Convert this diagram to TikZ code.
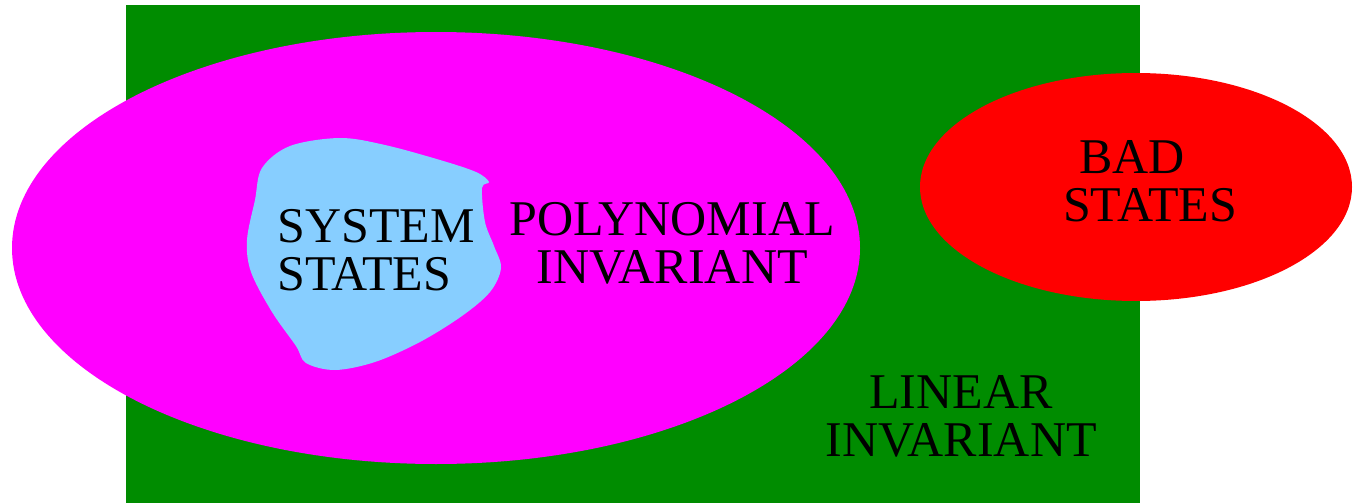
\documentclass[tikz,border=0pt]{standalone}
\usepackage{fontspec}
\setmainfont{Liberation Serif}
\definecolor{lingreen}{RGB}{0,140,0}
\definecolor{polymag}{RGB}{255,0,255}
\definecolor{badred}{RGB}{255,0,0}
\definecolor{sysblue}{RGB}{135,206,255}
\begin{document}
\begin{tikzpicture}[x=1pt,y=-1pt,
  lbl/.style={font=\fontsize{50}{48}\selectfont, align=center, inner sep=0pt, text=black}]
\useasboundingbox (0,0) rectangle (1353,503);
\fill[lingreen] (126,5.5) rectangle (1139.5,503);
\fill[polymag] (436,248) ellipse [x radius=424, y radius=216];
\fill[badred] (1136,187) ellipse [x radius=216, y radius=114];
\fill[sysblue] plot[smooth cycle, tension=0.55] coordinates {
 (340,138) (385,145) (440,160) (476,172) (489,182) (482,188)
 (485,222) (494,246) (501,268) (490,292) (462,316) (420,342) (375,362) (335,370)
 (306,363) (296,346) (272,312) (251,272) (247,240) (255,200) (262,168) (290,146)};
\node[lbl, align=left] (sys) at (376,250) {SYSTEM\\STATES};
\node[lbl] (poly) at (672,243) {POLYNOMIAL\\INVARIANT};
\node[lbl] (lin) at (961,416) {LINEAR\\INVARIANT};
\node[lbl] (bad) at (1150,181) {BAD\hphantom{X}\\STATES};
\end{tikzpicture}
\end{document}
